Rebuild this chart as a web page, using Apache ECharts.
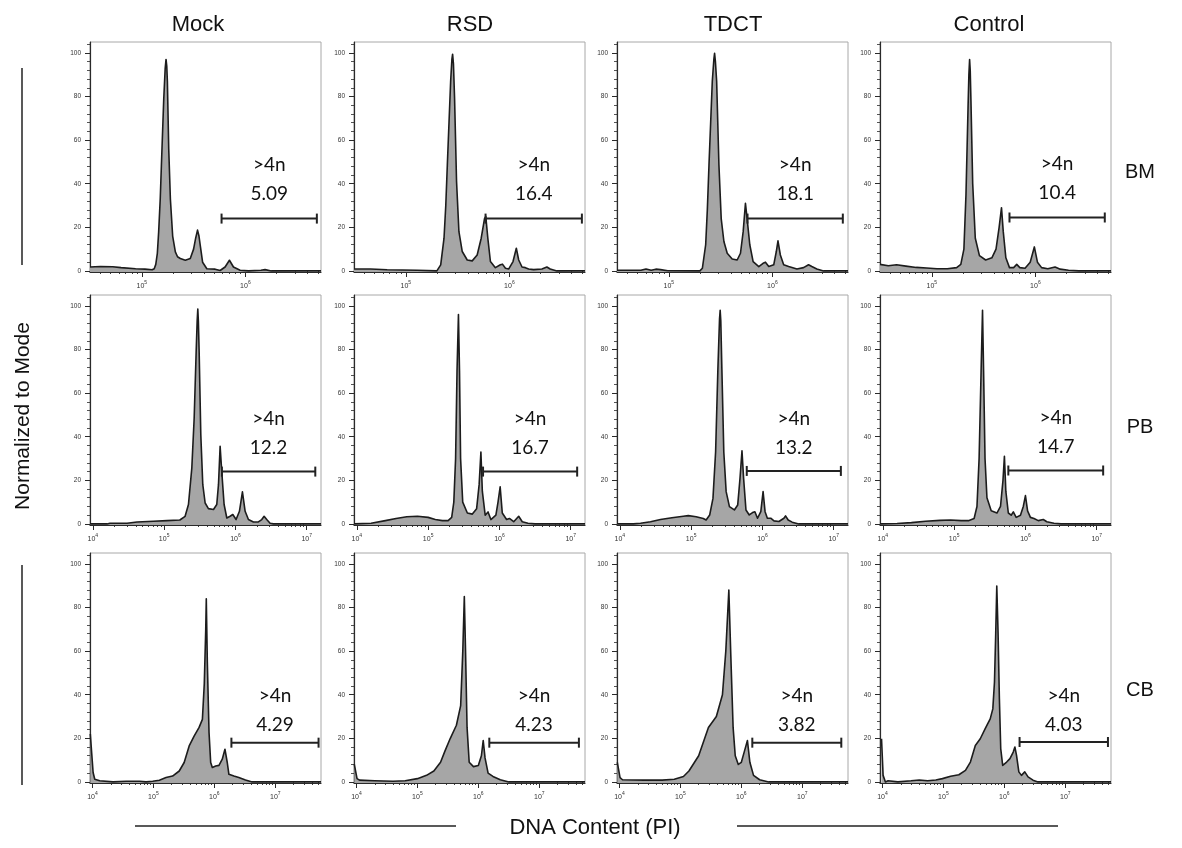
<!DOCTYPE html>
<html><head><meta charset="utf-8">
<script src="https://cdn.jsdelivr.net/npm/echarts@6/dist/echarts.min.js"></script>
<style>html,body{margin:0;padding:0;background:#fff}#c{width:1182px;height:848px}</style>
</head><body><div id="c"></div>
<script>
// ---------- data ----------
const samples = ['Mock', 'RSD', 'TDCT', 'Control'];
const tissues = ['BM', 'PB', 'CB'];
const gateLabel = '>4n';
const pctBM = ['5.09', '16.4', '18.1', '10.4'];
const pctPB = ['12.2', '16.7', '13.2', '14.7'];
const pctCB = ['4.29', '4.23', '3.82', '4.03'];
const yTickLabels = [0, 20, 40, 60, 80, 100];
// x ranges, log10 of DNA content (PI)
const rangeBM = [4.5, 6.73];
const rangePB = [3.96, 7.2];
const rangeCB = [3.96, 7.75];
// gates: [log10 start, log10 end, level]
const gateBM = [[5.77, 6.69, 24], [5.77, 6.70, 24], [5.76, 6.68, 24], [5.75, 6.67, 24.5]];
const gatePB = [[5.81, 7.12, 24], [5.77, 7.09, 24], [5.78, 7.10, 24.3], [5.76, 7.09, 24.5]];
const gateCB = [[6.28, 7.71, 18], [6.18, 7.65, 18], [6.18, 7.64, 18], [6.25, 7.70, 18.3]];

// histograms: [log10 DNA content, % of mode]
const histBM_Mock = [[4.5,1.8],[4.6,2],[4.72,1.9],[4.8,1.5],[4.94,1],[5.03,0.8],[5.1,0.5],[5.12,1],[5.135,3],[5.15,8],[5.163,18],[5.178,33],[5.189,48],[5.212,79],[5.226,93],[5.234,97],[5.241,94],[5.247,87],[5.26,56],[5.276,33],[5.298,16],[5.324,8.7],[5.345,6.5],[5.372,5.7],[5.42,4.9],[5.468,5.7],[5.5,10],[5.52,15],[5.538,18.7],[5.552,16],[5.564,11.8],[5.587,4],[5.628,1],[5.708,0.8],[5.756,0.2],[5.804,1.8],[5.846,4.9],[5.885,1.8],[5.949,0.3],[6.03,0],[6.15,0.3],[6.19,0.6],[6.25,0],[6.73,0]];
const histBM_RSD = [[4.5,0.9],[4.66,0.9],[4.82,0.5],[5.11,0.3],[5.3,0],[5.337,2.8],[5.369,15],[5.386,30],[5.401,48.6],[5.433,87],[5.445,97],[5.452,99.4],[5.46,95],[5.471,79],[5.49,41],[5.513,18],[5.545,8.9],[5.593,5],[5.641,4.6],[5.689,7.3],[5.728,15],[5.76,24],[5.772,25],[5.792,15],[5.817,4.3],[5.865,1.5],[5.913,2.8],[5.933,3.1],[5.962,1.2],[5.994,0.9],[6.035,4.3],[6.067,10.4],[6.09,5],[6.122,1.8],[6.154,1.5],[6.186,0.9],[6.234,0.6],[6.314,0.9],[6.362,1.8],[6.394,0.9],[6.458,0],[6.73,0]];
const histBM_TDCT = [[4.5,0.3],[4.73,0.3],[4.78,0.9],[4.83,0.3],[4.875,0.8],[4.92,0.6],[4.99,0.1],[5.3,0],[5.324,1.2],[5.356,12],[5.372,28],[5.388,48.6],[5.42,87],[5.435,97],[5.442,99.8],[5.45,96],[5.462,87],[5.484,48.6],[5.506,24],[5.532,13.5],[5.564,8.1],[5.612,5.5],[5.66,5],[5.692,8.1],[5.718,18],[5.74,31],[5.756,24],[5.782,12],[5.814,4.3],[5.869,2],[5.91,3.5],[5.933,4],[5.965,2],[6.013,2.8],[6.038,8.9],[6.054,13.8],[6.077,7.3],[6.109,2.8],[6.157,2],[6.237,0.9],[6.301,1.5],[6.349,2.8],[6.381,2],[6.429,0.9],[6.494,0],[6.73,0]];
const histBM_Control = [[4.5,3],[4.58,2.4],[4.66,2.8],[4.75,2.2],[4.85,1.6],[4.95,1.3],[5.05,1],[5.15,1],[5.24,1.5],[5.28,3],[5.31,10],[5.33,35],[5.35,75],[5.358,90],[5.365,97],[5.371,92],[5.378,78],[5.395,40],[5.42,15],[5.46,7],[5.52,5],[5.58,6],[5.62,10],[5.65,20],[5.673,29],[5.69,18],[5.715,6],[5.75,1.5],[5.79,1.5],[5.82,3],[5.85,1.5],[5.9,1.2],[5.95,4],[5.99,11],[6.02,4],[6.06,1.5],[6.12,1],[6.19,1.8],[6.24,0.8],[6.32,0.3],[6.42,0],[6.73,0]];

const histPB_Mock = [[3.96,0],[4.2,0],[4.24,0.3],[4.48,0.3],[4.62,0.9],[4.85,1.2],[5.04,1.5],[5.22,1.8],[5.294,3.5],[5.341,8.9],[5.388,25.6],[5.421,48.5],[5.449,79],[5.463,93],[5.472,98.6],[5.48,93],[5.491,79],[5.514,41],[5.542,18],[5.575,9.6],[5.621,7],[5.692,6.6],[5.738,8.9],[5.762,18],[5.785,35.6],[5.808,24],[5.841,8.9],[5.879,2.7],[5.925,3.5],[5.963,4.3],[6.009,2],[6.056,5.8],[6.098,14.7],[6.136,5.8],[6.182,2],[6.252,0.9],[6.322,0.9],[6.369,2],[6.402,3.5],[6.439,2],[6.486,0.3],[6.533,0],[7.2,0]];
const histPB_RSD = [[3.96,0],[4.2,0.3],[4.4,1.5],[4.55,2.5],[4.7,3.3],[4.85,3.5],[5.0,3],[5.1,2],[5.2,1.5],[5.28,1.5],[5.33,3],[5.36,10],[5.385,30],[5.405,70],[5.425,96],[5.44,70],[5.455,30],[5.485,10],[5.55,5],[5.62,4.5],[5.68,7],[5.715,18],[5.74,33],[5.76,15],[5.8,4],[5.84,5.5],[5.88,2],[5.95,4],[5.98,10],[6.01,17],[6.04,5],[6.1,2],[6.14,2.5],[6.2,1],[6.27,3.5],[6.32,1],[6.4,0.3],[6.5,0],[7.2,0]];
const histPB_TDCT = [[3.96,0],[4.19,0],[4.29,0.3],[4.43,1],[4.57,2],[4.73,2.8],[4.89,3.5],[4.96,3.8],[5.07,3.3],[5.17,2.5],[5.21,1.8],[5.26,4.1],[5.306,11.7],[5.343,33],[5.375,71],[5.398,94],[5.407,98],[5.416,93],[5.431,71],[5.458,33],[5.491,14.8],[5.537,7.9],[5.606,6.4],[5.653,8.7],[5.685,20.8],[5.713,33.5],[5.736,20.8],[5.769,6.4],[5.815,4.1],[5.861,5.2],[5.894,5.6],[5.931,2.6],[5.977,5.6],[6.009,14.8],[6.037,5.6],[6.069,2.6],[6.116,2.6],[6.162,1.4],[6.231,1.1],[6.301,2.6],[6.324,3.7],[6.361,1.8],[6.417,0.8],[6.509,0],[7.2,0]];
const histPB_Control = [[3.96,0],[4.2,0.2],[4.4,0.6],[4.6,1.2],[4.8,1.6],[4.95,1.8],[5.1,1.5],[5.2,1.5],[5.28,2.5],[5.32,8],[5.35,30],[5.378,70],[5.398,98],[5.413,70],[5.433,30],[5.46,12],[5.52,6],[5.6,5],[5.65,8],[5.685,20],[5.705,31],[5.725,15],[5.76,5],[5.8,4],[5.83,5.5],[5.87,3],[5.93,4],[5.97,8],[6.0,13],[6.03,6],[6.07,3],[6.12,2.5],[6.18,1.5],[6.25,2],[6.3,1],[6.4,0.3],[6.5,0],[7.2,0]];

const histCB_Mock = [[3.965,22],[3.985,22],[4.011,4.3],[4.038,1.2],[4.12,0.5],[4.337,0],[4.554,0.3],[4.772,0.3],[4.88,0],[4.989,0.3],[5.098,0.8],[5.207,2],[5.315,2.7],[5.424,5],[5.505,8.9],[5.587,16.5],[5.668,21],[5.75,25],[5.804,28.7],[5.835,45],[5.859,70],[5.868,84],[5.885,55],[5.913,22.6],[5.94,8.9],[5.967,6.6],[6.022,7.3],[6.076,7.6],[6.13,10.4],[6.174,15],[6.212,8.9],[6.239,3.5],[6.321,2.7],[6.402,2],[6.511,0.9],[6.62,0],[7.75,0]];
const histCB_RSD = [[3.965,8],[3.985,8],[4.01,1.5],[4.05,0.8],[4.3,0.5],[4.6,0.3],[4.8,0.5],[5.0,1.5],[5.15,3],[5.27,5],[5.38,9],[5.45,14],[5.54,20],[5.64,26],[5.71,35],[5.745,60],[5.77,85],[5.79,60],[5.815,25],[5.85,9],[5.92,7],[6.0,7.5],[6.05,12],[6.08,19],[6.11,11],[6.16,4],[6.24,2.5],[6.36,1],[6.5,0],[7.75,0]];
const histCB_TDCT = [[3.965,9],[3.985,9],[4.01,2],[4.05,1],[4.4,0.8],[4.7,0.8],[4.9,1.2],[5.05,2.5],[5.14,5],[5.3,12],[5.46,25],[5.59,30],[5.69,40],[5.745,60],[5.795,88],[5.825,60],[5.865,25],[5.9,12],[5.95,8],[6.0,9],[6.05,14],[6.1,19],[6.14,9],[6.2,3],[6.3,1],[6.45,0],[7.75,0]];
const histCB_Control = [[3.985,19.8],[4.0,19.8],[4.011,3],[4.049,0],[4.092,0.5],[4.254,0],[4.47,0.5],[4.605,0.9],[4.741,0.5],[4.876,0.9],[4.984,1.5],[5.119,2.6],[5.254,3.3],[5.362,5.3],[5.443,9.1],[5.524,16.7],[5.605,19.8],[5.686,24.4],[5.768,28.9],[5.811,33.5],[5.838,45.7],[5.859,68.5],[5.876,89.8],[5.897,68.5],[5.919,38],[5.941,15.2],[5.973,7.6],[6.038,9.1],[6.092,10.7],[6.146,13.7],[6.173,16],[6.2,12.2],[6.238,4.6],[6.281,3],[6.335,4.6],[6.389,2.3],[6.47,0.8],[6.551,0],[7.75,0]];

// ---------- layout ----------
const hists = [
  [histBM_Mock, histBM_RSD, histBM_TDCT, histBM_Control],
  [histPB_Mock, histPB_RSD, histPB_TDCT, histPB_Control],
  [histCB_Mock, histCB_RSD, histCB_TDCT, histCB_Control]
];
const ranges = [rangeBM, rangePB, rangeCB];
const gates = [gateBM, gatePB, gateCB];
const pcts = [pctBM, pctPB, pctCB];

const colLeft = [90, 354, 617, 880];
const rowTop = [42, 295, 553];
const textGap = [10, 9, 3];
const plotW = 231, plotH = 230;
const titleX = [198, 470, 733, 989];
const AX = '#2a2a2a';
const FONT = 'Liberation Sans, Arial, sans-serif';

const grids = [], xMajor = [], xMinorAx = [], yMajor = [], yMinorAx = [], series = [];
const yMinorVals = [];
for (let v = 0; v <= 104; v += 4) if (v % 20 !== 0) yMinorVals.push(v);

for (let r = 0; r < 3; r++) {
  for (let c = 0; c < 4; c++) {
    const i = r * 4 + c;
    const lo = ranges[r][0], hi = ranges[r][1];
    grids.push({left: colLeft[c], top: rowTop[r], width: plotW, height: plotH,
      show: true, borderColor: '#a8a8a8', borderWidth: 1, backgroundColor: 'transparent'});
    const majors = [], minors = [];
    for (let e = Math.floor(lo); e <= Math.ceil(hi); e++) {
      for (let k = 1; k <= 9; k++) {
        const lv = e + Math.log10(k);
        if (lv >= lo && lv <= hi) (k === 1 ? majors : minors).push(k * Math.pow(10, e));
      }
    }
    const xBase = {type: 'log', logBase: 10, gridIndex: i, position: 'bottom',
      min: Math.pow(10, lo), max: Math.pow(10, hi), splitLine: {show: false}, minorTick: {show: false}};
    xMajor.push(Object.assign({}, xBase, {
      axisLine: {show: true, onZero: false, lineStyle: {color: AX, width: 1.2}},
      axisTick: {show: true, length: 5, inside: false, customValues: majors, lineStyle: {color: AX, width: 1}},
      axisLabel: {show: true, customValues: majors, margin: 8, color: '#333',
        formatter: function (v) { return '{b|10}{s|' + Math.round(Math.log10(v)) + '}'; },
        rich: {b: {fontSize: 7, fontFamily: FONT, color: '#333', lineHeight: 10, verticalAlign: 'bottom'},
               s: {fontSize: 5, fontFamily: FONT, color: '#333', lineHeight: 10, verticalAlign: 'top', padding: [0, 0, 3, 0]}}}
    }));
    xMinorAx.push(Object.assign({}, xBase, {
      axisLine: {show: false},
      axisTick: {show: true, length: 3, customValues: minors, lineStyle: {color: AX, width: 1}},
      axisLabel: {show: false}
    }));
    const yBase = {type: 'value', gridIndex: i, position: 'left', min: -0.5, max: 105, splitLine: {show: false}};
    yMajor.push(Object.assign({}, yBase, {
      axisLine: {show: true, onZero: false, lineStyle: {color: AX, width: 1.2}},
      axisTick: {show: true, length: 5, customValues: yTickLabels, lineStyle: {color: AX, width: 1}},
      axisLabel: {show: true, customValues: yTickLabels, margin: 9, fontSize: 6.5, fontFamily: FONT, color: '#333'}
    }));
    yMinorAx.push(Object.assign({}, yBase, {
      axisLine: {show: false},
      axisTick: {show: true, length: 3, customValues: yMinorVals, lineStyle: {color: AX, width: 0.8}},
      axisLabel: {show: false}
    }));
    series.push({
      type: 'line', xAxisIndex: i, yAxisIndex: i, name: tissues[r] + ' ' + samples[c],
      data: hists[r][c].map(p => [Math.pow(10, p[0]), p[1]]),
      showSymbol: false, symbol: 'none', smooth: false,
      lineStyle: {color: '#1c1c1c', width: 1.6, join: 'round'},
      areaStyle: {color: '#a6a6a6', opacity: 1, origin: 'start'},
      silent: true, z: 2
    });
    const g = gates[r][c];
    const pct = pcts[r][c];
    const gap = textGap[r];
    series.push({
      type: 'custom', xAxisIndex: i, yAxisIndex: i, silent: true, z: 5,
      encode: {x: [0, 1], y: 2},
      data: [[Math.pow(10, g[0]), Math.pow(10, g[1]), g[2]]],
      renderItem: function (params, api) {
        const a = api.coord([api.value(0), api.value(2)]);
        const b = api.coord([api.value(1), api.value(2)]);
        const cap = 5;
        const st = {stroke: '#222', lineWidth: 2};
        return {type: 'group', children: [
          {type: 'line', shape: {x1: a[0], y1: a[1], x2: b[0], y2: b[1]}, style: st},
          {type: 'line', shape: {x1: a[0], y1: a[1] - cap, x2: a[0], y2: a[1] + cap}, style: st},
          {type: 'line', shape: {x1: b[0], y1: b[1] - cap, x2: b[0], y2: b[1] + cap}, style: st},
          {type: 'text', x: (a[0] + b[0]) / 2, y: a[1] - gap,
            style: {text: gateLabel + '\n' + pct, fill: '#111', fontSize: 19, fontFamily: 'Lato, Open Sans, sans-serif',
              align: 'center', verticalAlign: 'bottom', lineHeight: 29}}
        ]};
      }
    });
  }
}

const graphics = [];
samples.forEach((s, c) => graphics.push({type: 'text', x: titleX[c], y: 25,
  style: {text: s, fontSize: 22, fontFamily: FONT, fill: '#111', align: 'center', verticalAlign: 'middle'}}));
const rowLabelY = [172, 427, 690];
tissues.forEach((t, r) => graphics.push({type: 'text', x: 1140, y: rowLabelY[r],
  style: {text: t, fontSize: 20, fontFamily: FONT, fill: '#111', align: 'center', verticalAlign: 'middle'}}));
graphics.push({type: 'text', x: 23, y: 416, rotation: Math.PI / 2,
  style: {text: 'Normalized to Mode', fontSize: 21, fontFamily: FONT, fill: '#111', align: 'center', verticalAlign: 'middle'}});
graphics.push({type: 'line', shape: {x1: 22, y1: 68, x2: 22, y2: 265}, style: {stroke: '#222', lineWidth: 1.5}});
graphics.push({type: 'line', shape: {x1: 22, y1: 565, x2: 22, y2: 785}, style: {stroke: '#222', lineWidth: 1.5}});
graphics.push({type: 'text', x: 595, y: 828,
  style: {text: 'DNA Content (PI)', fontSize: 22, fontFamily: FONT, fill: '#111', align: 'center', verticalAlign: 'middle'}});
graphics.push({type: 'line', shape: {x1: 135, y1: 826, x2: 456, y2: 826}, style: {stroke: '#222', lineWidth: 1.5}});
graphics.push({type: 'line', shape: {x1: 737, y1: 826, x2: 1058, y2: 826}, style: {stroke: '#222', lineWidth: 1.5}});

const chart = echarts.init(document.getElementById('c'));
chart.setOption({
  backgroundColor: '#ffffff',
  animation: false,
  grid: grids,
  xAxis: xMajor.concat(xMinorAx),
  yAxis: yMajor.concat(yMinorAx),
  series: series,
  graphic: graphics
});
</script></body></html>
